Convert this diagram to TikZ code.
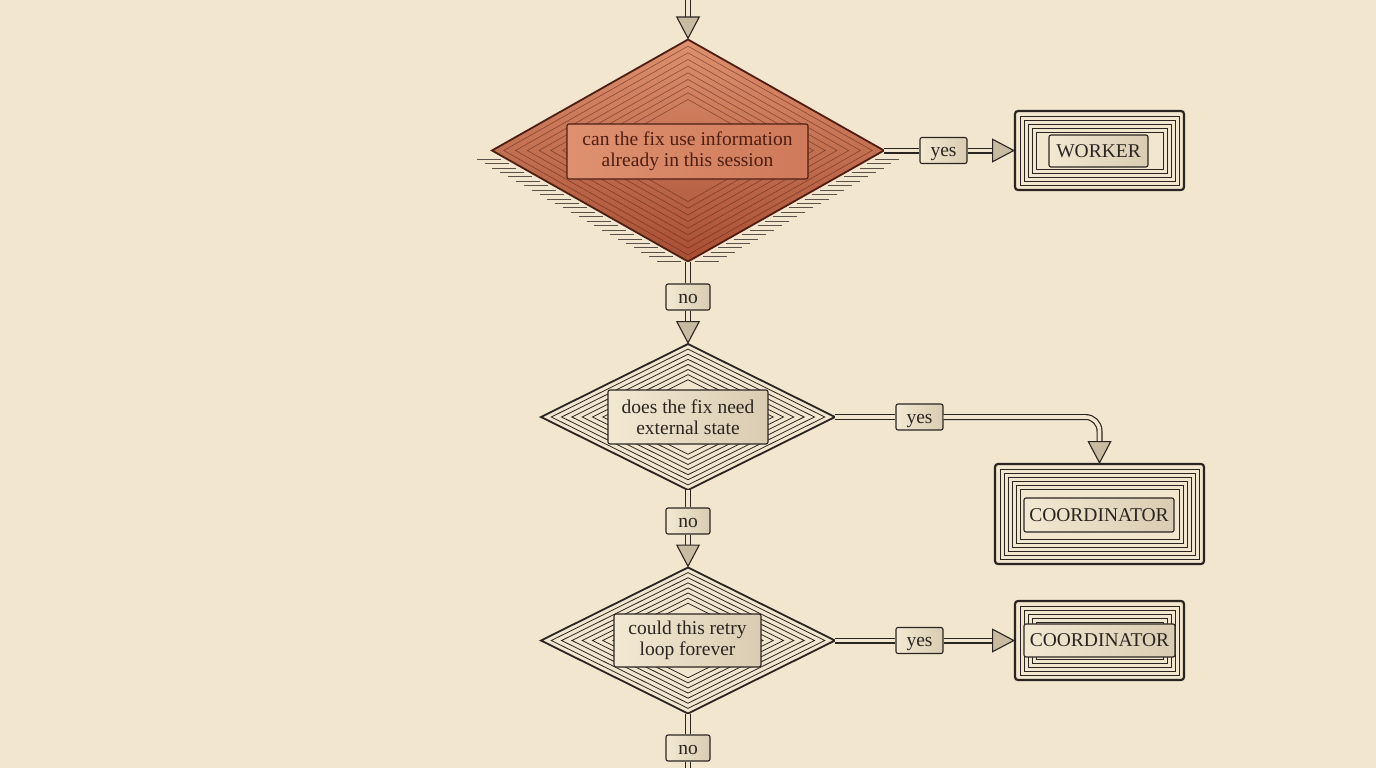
\documentclass[tikz,border=0pt]{standalone}
\usepackage{fontspec}
\setmainfont{Liberation Serif}
\usetikzlibrary{shapes.geometric,arrows.meta,calc}
\definecolor{bg}{HTML}{F2E6CF}
\definecolor{ink}{HTML}{2B2521}
\definecolor{terral}{HTML}{DE916F}
\definecolor{terrad}{HTML}{A84E33}
\definecolor{rust}{HTML}{4E1E12}
\definecolor{tboxl}{HTML}{DE9170}
\definecolor{tboxr}{HTML}{CF7A5A}
\definecolor{boxfill}{HTML}{F3E8D2}
\definecolor{boxdot}{HTML}{D9CCB2}
\definecolor{tipfill}{HTML}{C8BBA2}
\definecolor{shadow}{HTML}{5A524A}
\begin{document}
\begin{tikzpicture}[x=1pt,y=-1pt,
  font=\fontsize{19.5}{21}\selectfont,
  diam/.style={diamond, draw=ink, line width=1.8pt, inner sep=0pt, outer sep=0pt, fill=bg},
  txtbox/.style={draw=ink, line width=1.1pt, rounded corners=2pt, inner sep=0pt, left color=boxfill, right color=boxdot, align=center, text=ink},
  lab/.style={draw=ink, line width=1.1pt, rounded corners=2pt, inner sep=0pt, left color=boxfill, right color=boxdot, text=ink, minimum height=26pt, text height=13pt, text depth=1pt},
  outerbox/.style={draw=ink, line width=2.2pt, rounded corners=3pt, inner sep=0pt, outer sep=0pt, fill=bg},
  ring/.style={draw=ink, line width=0.8pt},
  dring/.style={draw=rust, line width=0.6pt, opacity=0.55},
  shadowline/.style={draw=shadow, line width=0.8pt},
  shaft/.style={draw=ink, line width=1.2pt, double=bg, double distance=3.6pt},
  arr/.style={shaft, shorten >=20pt,
    postaction={draw=bg, line width=1pt, shorten >=0pt,
      -{Triangle[length=23pt,width=24pt,color=ink,fill=tipfill,line width=1.1pt]}}},
]
\useasboundingbox (0,0) rectangle (1376,768);
\fill[bg] (0,0) rectangle (1376,768);

% ---------- diamond 1 ----------
\foreach \t in {0.05,0.09,...,0.97}{
  \draw[shadowline] ($(492,150.5)!\t!(688,261.5)+(-1,3)$) -- ++(-24,0);
  \draw[shadowline] ($(884,150.5)!\t!(688,261.5)+(1,3)$) -- ++(24,0);
}
\node[diam, minimum width=392, minimum height=222, draw=rust, top color=terral, bottom color=terrad] (d1) at (688,150.5) {};
\foreach \f in {0.94,0.88,0.82,0.76,0.70,0.64,0.58,0.52,0.46}
  \draw[dring] ($(d1.center)!\f!(d1.north)$) -- ($(d1.center)!\f!(d1.east)$) -- ($(d1.center)!\f!(d1.south)$) -- ($(d1.center)!\f!(d1.west)$) -- cycle;
\node[txtbox, draw=rust, left color=tboxl, right color=tboxr, text=rust, minimum width=241, minimum height=55] (t1) at (687.5,151.5) {can the fix use information\\already in this session};

% ---------- diamond 2 ----------
\node[diam, minimum width=294, minimum height=146] (d2) at (688,417) {};
\foreach \f in {0.93,0.86,0.79,0.72,0.65,0.58,0.51}
  \draw[ring] ($(d2.center)!\f!(d2.north)$) -- ($(d2.center)!\f!(d2.east)$) -- ($(d2.center)!\f!(d2.south)$) -- ($(d2.center)!\f!(d2.west)$) -- cycle;
\node[txtbox, minimum width=160, minimum height=54] (t2) at (688,417) {does the fix need\\external state};

% ---------- diamond 3 ----------
\node[diam, minimum width=294, minimum height=146] (d3) at (688,640.5) {};
\foreach \f in {0.93,0.86,0.79,0.72,0.65,0.58,0.51}
  \draw[ring] ($(d3.center)!\f!(d3.north)$) -- ($(d3.center)!\f!(d3.east)$) -- ($(d3.center)!\f!(d3.south)$) -- ($(d3.center)!\f!(d3.west)$) -- cycle;
\node[txtbox, minimum width=147, minimum height=53] (t3) at (687.5,640.5) {could this retry\\loop forever};

% ---------- outcome boxes ----------
\node[outerbox, minimum width=169, minimum height=79] (w1) at (1099.5,150.5) {};
\foreach \i in {5,9,13,17,21}
  \draw[ring] ([shift={(\i,\i)}]w1.north west) rectangle ([shift={(-\i,-\i)}]w1.south east);
\node[txtbox, minimum width=99, minimum height=32] (w1l) at (1098.5,151) {WORKER};

\node[outerbox, minimum width=209, minimum height=100] (c1) at (1099.5,514) {};
\foreach \i in {5,9,13,17,21,25}
  \draw[ring] ([shift={(\i,\i)}]c1.north west) rectangle ([shift={(-\i,-\i)}]c1.south east);
\node[txtbox, minimum width=150, minimum height=34] (c1l) at (1099,515) {COORDINATOR};

\node[outerbox, minimum width=169, minimum height=79] (c2) at (1099.5,640.5) {};
\foreach \i in {5,9,13,17,21}
  \draw[ring] ([shift={(\i,\i)}]c2.north west) rectangle ([shift={(-\i,-\i)}]c2.south east);
\node[txtbox, minimum width=151, minimum height=33] (c2l) at (1099.5,640.5) {COORDINATOR};

% ---------- labels ----------
\node[lab, minimum width=47] (y1) at (943.5,150.5) {yes};
\node[lab, minimum width=44] (n1) at (688,297) {no};
\node[lab, minimum width=47] (y2) at (919.5,417) {yes};
\node[lab, minimum width=44] (n2) at (688,521) {no};
\node[lab, minimum width=47] (y3) at (919.5,640.5) {yes};
\node[lab, minimum width=44] (n3) at (688,748) {no};

% ---------- connectors ----------
\coordinate (top) at (688,0);
\coordinate (bot) at (688,768);
\draw[arr] (top) -- (d1.north);
\draw[shaft] (d1.east) -- (y1.west);
\draw[arr] (y1.east) -- (w1.west);
\draw[shaft] (d1.south) -- (n1.north);
\draw[arr] (n1.south) -- (d2.north);
\draw[shaft] (d2.east) -- (y2.west);
\draw[arr, rounded corners=14pt] (y2.east) -- (y2.east -| c1.north) -- (c1.north);
\draw[shaft] (d2.south) -- (n2.north);
\draw[arr] (n2.south) -- (d3.north);
\draw[shaft] (d3.east) -- (y3.west);
\draw[arr] (y3.east) -- (c2.west);
\draw[shaft] (d3.south) -- (n3.north);
\draw[shaft] (n3.south) -- (bot);
\end{tikzpicture}
\end{document}
